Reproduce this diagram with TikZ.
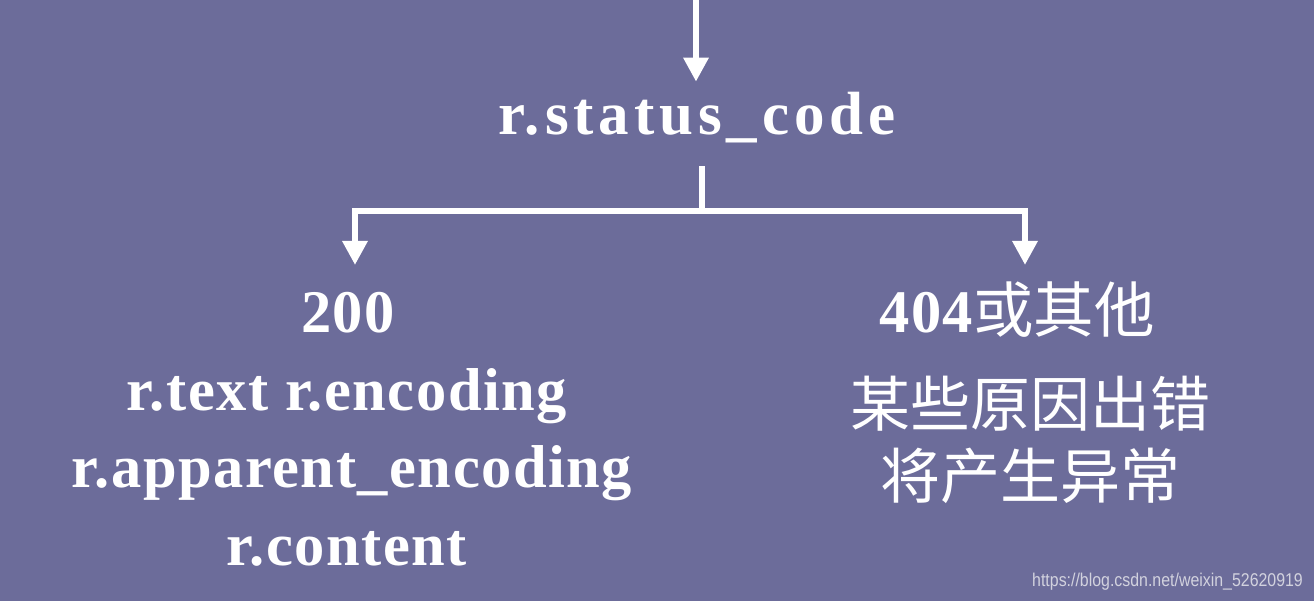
\documentclass[tikz,border=0pt]{standalone}
\usepackage{fontspec}
\setmainfont{Liberation Serif}
\newfontfamily\cjkfont{Noto Sans CJK SC}
\newfontfamily\markfont[FakeStretch=0.86]{Liberation Sans}
\newfontfamily\wideserif[LetterSpace=8]{Liberation Serif}
\newfontfamily\looseserif[LetterSpace=2.5]{Liberation Serif}
\usetikzlibrary{arrows.meta}
\definecolor{custcol_6c_6c_9a}{RGB}{108, 108, 154}
\definecolor{custcol_ff_ff_ff}{RGB}{255, 255, 255}
\definecolor{custcol_d2_d2_de}{RGB}{210, 210, 222}
\tikzset{
  wire/.style={line width=6.0pt, custcol_ff_ff_ff},
  flow/.style={wire, -{Triangle[width=24pt,length=24pt]}},
  bigtext/.style={inner sep=0, outer sep=0, custcol_ff_ff_ff, anchor=base,
    font=\fontsize{61pt}{61pt}\wideserif\bfseries},
  bodytext/.style={inner sep=0, outer sep=0, custcol_ff_ff_ff, anchor=base,
    font=\fontsize{60.5pt}{60.5pt}\looseserif\bfseries},
  cjktext/.style={inner sep=0, outer sep=0, custcol_ff_ff_ff, anchor=base,
    font=\fontsize{60pt}{60pt}\cjkfont}
}
\begin{document}
\begin{tikzpicture}[x=1pt,y=-1pt,line cap=rect]
\useasboundingbox (0,0) rectangle (1314,601);
\fill [custcol_6c_6c_9a] (0,0) rectangle (1314,601);
% top of the chart
\node[bigtext] (status) at (697,135) {r.status\_code};
% left branch
\node[bodytext] (ok) at (348,333) {200};
\node[bodytext] (oktext) at (347,410) {r.text r.encoding};
\node[bodytext] (okenc) at (352,487) {r.apparent\_encoding};
\node[bodytext] (okcontent) at (347,565) {r.content};
% right branch
\node[bodytext] (err) at (1017,333) {404{\cjkfont\mdseries 或其他}};
\node[cjktext] (errwhy) at (1030,426) {某些原因出错};
\node[cjktext] (errexc) at (1030,498) {将产生异常};
% connectors
\coordinate (in) at (696,0);
\coordinate (split) at (702,211);
\coordinate (okin) at (355,265);
\coordinate (errin) at (1025,265);
\draw[flow, shorten >=11pt] (in) -- (status.north -| in);
\draw[wire, shorten <=26pt] (status.south -| split) -- (split);
\draw[flow] (split) -| (okin);
\draw[flow] (split) -| (errin);
\node[inner sep=0, custcol_d2_d2_de, anchor=base west, font=\fontsize{18.5pt}{18.5pt}\markfont] (mark) at (1032,586) {https://blog.csdn.net/weixin\_52620919};
\end{tikzpicture}
\end{document}
